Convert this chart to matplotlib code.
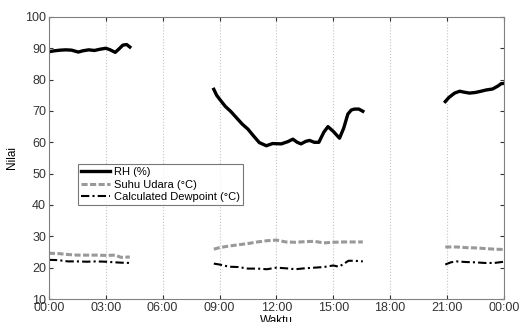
import matplotlib
matplotlib.use('Agg')
import matplotlib.pyplot as plt

plt.rcParams['font.family'] = ['Liberation Sans', 'DejaVu Sans']

# RH (%) segments: hours since 00:00, values
rh_hours = [
    [0, 0.3, 0.6, 0.9, 1.2, 1.55, 1.8, 2.1, 2.4, 2.7, 3.0, 3.2, 3.5, 3.7, 3.9, 4.1, 4.27],
    [8.7, 8.85, 9.0, 9.3, 9.6, 9.9, 10.2, 10.5, 10.8, 11.1, 11.47, 11.8, 12.26, 12.6, 12.87,
     13.1, 13.3, 13.55, 13.75, 14.0, 14.24, 14.5, 14.72, 15.0, 15.33, 15.55, 15.77, 15.95,
     16.12, 16.35, 16.56],
    [20.91, 21.1, 21.4, 21.67, 21.9, 22.19, 22.5, 22.8, 23.07, 23.4, 23.7, 23.85, 24.0],
]
rh_values = [
    [88.9, 89.2, 89.4, 89.5, 89.4, 88.8, 89.2, 89.5, 89.3, 89.7, 90.0, 89.6, 88.7, 89.8, 91.0, 91.2, 90.4],
    [76.9, 75.0, 73.8, 71.5, 69.8, 67.8, 65.8, 64.2, 62.0, 59.9, 58.9, 59.6, 59.5, 60.2, 61.0,
     60.0, 59.5, 60.3, 60.6, 60.0, 60.0, 63.2, 65.0, 63.5, 61.3, 64.5, 69.0, 70.3,
     70.6, 70.6, 69.9],
    [73.0, 74.3, 75.7, 76.3, 76.0, 75.7, 75.9, 76.3, 76.7, 77.0, 78.0, 78.7, 78.8],
]

# Suhu Udara (°C)
temp_hours = [
    [0, 0.5, 1, 1.5, 2, 2.5, 3, 3.5, 3.8, 4.27],
    [8.7, 9.0, 9.5, 10, 10.5, 11, 11.5, 12, 12.5, 13, 13.5, 14, 14.5, 15, 15.5, 16, 16.56],
    [20.91, 21.5, 22, 22.5, 23, 23.5, 24],
]
temp_values = [
    [24.6, 24.5, 24.2, 24.0, 24.0, 24.0, 23.9, 24.0, 23.3, 23.4],
    [25.9, 26.4, 26.9, 27.3, 27.7, 28.2, 28.6, 28.8, 28.2, 28.1, 28.3, 28.4, 27.9, 28.1, 28.2, 28.2, 28.2],
    [26.6, 26.6, 26.4, 26.3, 26.1, 25.9, 25.8],
]

# Calculated Dewpoint (°C)
dew_hours = [
    [0, 0.5, 1, 1.5, 2, 2.5, 3, 3.5, 3.8, 4.27],
    [8.7, 9.0, 9.5, 10, 10.5, 11, 11.5, 12, 12.5, 13, 13.5, 14, 14.5, 15, 15.3, 15.6, 15.8, 16.1, 16.56],
    [20.91, 21.2, 21.5, 22, 22.5, 23, 23.5, 24],
]
dew_values = [
    [22.5, 22.4, 22.0, 22.0, 21.9, 22.0, 21.9, 21.7, 21.6, 21.5],
    [21.3, 21.0, 20.3, 20.2, 19.7, 19.7, 19.5, 20.0, 19.8, 19.5, 19.8, 20.0, 20.2, 20.7, 20.3, 21.4, 22.2, 22.2, 22.0],
    [21.0, 21.7, 22.0, 21.8, 21.7, 21.5, 21.5, 21.9],
]

tick_hours = [0, 3, 6, 9, 12, 15, 18, 21, 24]
tick_labels = ['00:00', '03:00', '06:00', '09:00', '12:00', '15:00', '18:00', '21:00', '00:00']

fig = plt.figure(figsize=(5.2, 3.22), dpi=100)
ax = fig.add_axes([0.094, 0.0714, 0.875, 0.876])

series = [
    (rh_hours, rh_values, 'RH (%)', dict(color='black', lw=2.4, ls='-')),
    (temp_hours, temp_values, 'Suhu Udara (\u00b0C)', dict(color='#999999', lw=2.2, ls=(0, (2.0, 0.8)))),
    (dew_hours, dew_values, 'Calculated Dewpoint (\u00b0C)', dict(color='black', lw=1.5, ls=(0, (4, 1.5, 1, 1.5)))),
]
for hours, values, label, style in series:
    for i, (h, v) in enumerate(zip(hours, values)):
        ax.plot(h, v, label=label if i == 0 else None, **style)

ax.set_xlim(0, 24)
ax.set_ylim(10, 100)
ax.set_xticks(tick_hours)
ax.set_xticklabels(tick_labels)
ax.set_yticks(range(10, 101, 10))
ax.xaxis.grid(True, ls=':', color='#c4c4c4', lw=0.8)
ax.tick_params(direction='in', length=3, labelsize=9, colors='#333333',
               top=True, right=True, pad=2)
for s in ax.spines.values():
    s.set_color('#808080')
    s.set_linewidth(0.8)

ax.set_xlabel('Waktu', fontsize=8.5, labelpad=1)
ax.set_ylabel('Nilai', fontsize=8.5, labelpad=5)

leg = ax.legend(loc='lower left', bbox_to_anchor=(0.064, 0.333), fontsize=8,
                frameon=True, fancybox=False, edgecolor='#555555', handlelength=2.6,
                handletextpad=0.3, borderpad=0.3, labelspacing=0.2, borderaxespad=0)
leg.get_frame().set_linewidth(0.8)

fig.savefig('out.png', dpi=100)
